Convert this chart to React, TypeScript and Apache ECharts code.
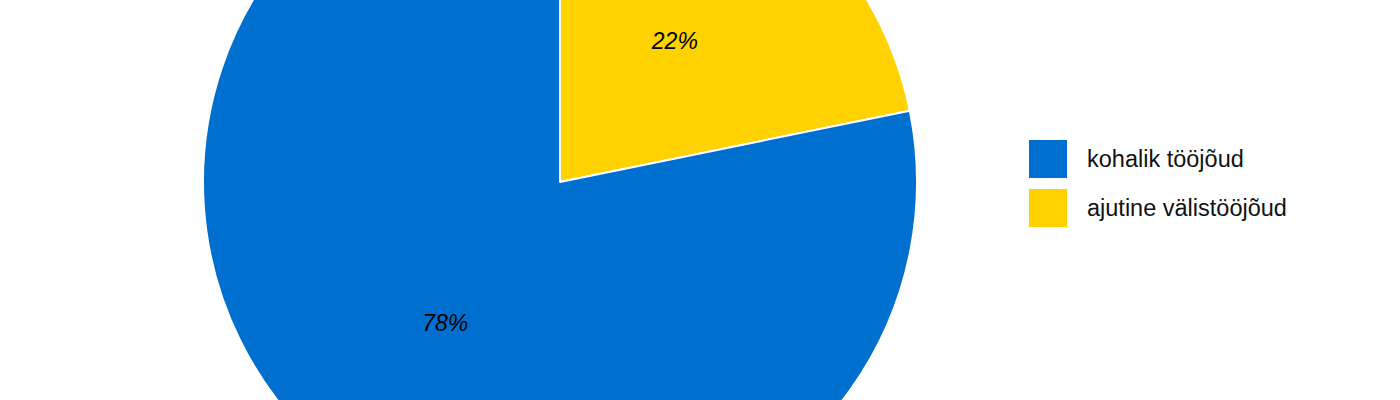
import * as echarts from "echarts"
import { useEffect, useRef } from "react"

const categories = ["ajutine välistööjõud", "kohalik tööjõud"]
const values = [21.8, 78.2]
const colors = ["#FFD200", "#0070D0"]
const legendOrder = ["kohalik tööjõud", "ajutine välistööjõud"]

const App: React.FC = () => {
    const divRef = useRef<HTMLDivElement | null>(null)

    useEffect(() => {
        if (!divRef.current) return
        const chart = echarts.init(divRef.current, undefined, { renderer: "svg" })

        chart.setOption({
            animation: false,
            textStyle: { fontFamily: "Liberation Sans, Arial, sans-serif" },
            legend: {
                orient: "vertical",
                left: 1027,
                top: 138,
                padding: 0,
                itemWidth: 40,
                itemHeight: 40,
                itemGap: 7,
                icon: "rect",
                data: legendOrder,
                textStyle: {
                    fontSize: 23.5,
                    color: "#111",
                    padding: [0, 0, 0, 14]
                }
            },
            series: [
                {
                    type: "pie",
                    center: [560, 182],
                    radius: 357,
                    startAngle: 90,
                    clockwise: true,
                    percentPrecision: 0,
                    emphasis: { scale: false },
                    itemStyle: {
                        borderColor: "#fff",
                        borderWidth: 2
                    },
                    label: {
                        show: true,
                        position: "inside",
                        formatter: "{d}%",
                        fontSize: 23,
                        fontStyle: "italic",
                        color: "#000"
                    },
                    labelLine: { show: false },
                    data: categories.map((name, i) => ({
                        name,
                        value: values[i],
                        itemStyle: { color: colors[i] }
                    }))
                }
            ]
        })

        return () => {
            chart.dispose()
        }
    }, [])

    return (
        <div
            ref={divRef}
            style={{ position: "absolute", left: 0, top: 0, width: 1400, height: 400, background: "#fff" }}
        ></div>
    )
}

export default App
